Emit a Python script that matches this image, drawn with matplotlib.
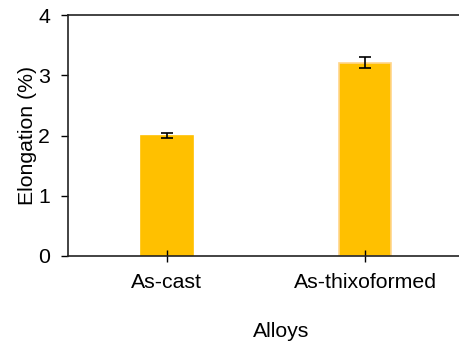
import matplotlib.pyplot as plt
import numpy as np

plt.rcParams['font.family'] = ['Liberation Sans', 'DejaVu Sans']

alloys = ['As-cast', 'As-thixoformed']
elongation = [2.0, 3.21]
elongation_err = [0.04, 0.09]
edge_colors = ['#FFC000', '#FFD58A']

fig = plt.figure(figsize=(4.59, 3.44), dpi=100)
ax = fig.add_axes([0.148, 0.256, 0.852, 0.700])

x = np.arange(len(alloys))
ax.bar(x, elongation, width=0.26, color='#FFC000', edgecolor=edge_colors, linewidth=1.2,
       yerr=elongation_err, capsize=4.5,
       error_kw=dict(ecolor='black', elinewidth=1.2, capthick=1.2))

ax.set_xlim(-0.499, 1.473)
ax.set_ylim(0, 4)
ax.set_yticks([0, 1, 2, 3, 4])
ax.set_xticks(x)
ax.set_xticklabels(alloys, fontsize=15.3)
ax.tick_params(axis='y', labelsize=15.3, direction='out', length=5, width=1, pad=8)
ax.tick_params(axis='x', direction='inout', length=9, width=1, pad=8)

ax.spines['right'].set_visible(False)
for s in ['left', 'bottom', 'top']:
    ax.spines[s].set_linewidth(1.2)
    ax.spines[s].set_color('#222222')

ax.set_ylabel('Elongation (%)', fontsize=15.3)
ax.set_xlabel('Alloys', fontsize=15.3)
ax.yaxis.set_label_coords(-0.079, 0.5)
ax.xaxis.set_label_coords(0.545, -0.276)

fig.savefig('out.png', dpi=100)
